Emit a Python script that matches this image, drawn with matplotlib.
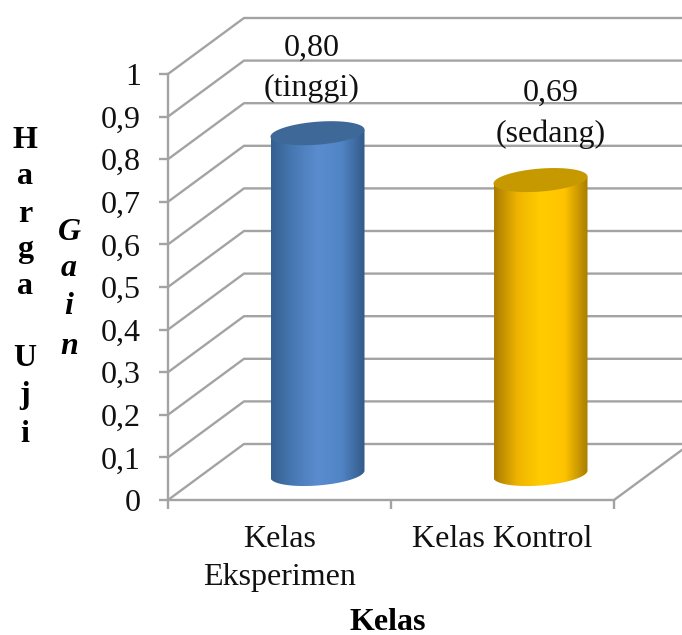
import numpy as np
import matplotlib
matplotlib.use('Agg')
import matplotlib.pyplot as plt
from matplotlib.colors import LinearSegmentedColormap
from matplotlib.patches import Polygon

categories = ['Kelas\nEksperimen', 'Kelas Kontrol']
values = [0.80, 0.69]
value_labels = ['0,80\n(tinggi)', '0,69\n(sedang)']
y_ticks = [0, 0.1, 0.2, 0.3, 0.4, 0.5, 0.6, 0.7, 0.8, 0.9, 1]
y_tick_labels = ['0', '0,1', '0,2', '0,3', '0,4', '0,5', '0,6', '0,7', '0,8', '0,9', '1']
x_title = 'Kelas'

body_colors = [['#33608F', '#4A7AB5', '#5A8CCF', '#5085C5', '#335A88'],
               ['#A87C00', '#F0B400', '#FFCC00', '#FFC400', '#A87C00']]
top_colors = ['#3E6898', '#C69900']

W, H = 682, 635
plt.rcParams['font.family'] = ['Liberation Serif', 'DejaVu Serif']
fig = plt.figure(figsize=(W / 100, H / 100), dpi=100)

# front plane of the fake 3D box, in pixels of the picture
left, right, top, bottom = 168, 614, 74, 500
ax = fig.add_axes([left / W, 1 - bottom / H, (right - left) / W, (bottom - top) / H])
px_x = (right - left) / 2
px_y = bottom - top

grid = '#A3A3A3'
text_color = '#111111'
font_size = 23
depth_x = 76 / px_x
depth_y = 56 / px_y

# walls and floor
for v in y_ticks:
    ax.plot([-0.5, -0.5 + depth_x, 1.5 + depth_x], [v, v + depth_y, v + depth_y],
            color=grid, lw=1.7, clip_on=False, zorder=1)
ax.plot([1.5, 1.5 + depth_x], [0, depth_y], color=grid, lw=1.7, clip_on=False, zorder=1)

# cylinders
cyl_dx = 38 / px_x
cyl_dy = 26 / px_y
half_w = 47 / px_x
half_h = 11.5 / px_y
slant = 3.5 / px_y
t = np.linspace(0, 2 * np.pi, 181)
low = np.linspace(0, np.pi, 91)
for i, v in enumerate(values):
    cx = i + cyl_dx
    base = cyl_dy
    # lower half of the base ellipse, then straight up to the top face
    bx = cx + half_w * np.cos(low)
    by = base - half_h * np.sin(low) + slant * np.cos(low)
    body_x = np.r_[bx, cx - half_w, cx + half_w]
    body_y = np.r_[by, base + v - slant, base + v + slant]
    body = Polygon(np.column_stack([body_x, body_y]), closed=True, fc='none', ec='none', zorder=3)
    ax.add_patch(body)
    cmap = LinearSegmentedColormap.from_list('cyl', body_colors[i])
    im = ax.imshow(np.linspace(0, 1, 256).reshape(1, -1), cmap=cmap, aspect='auto',
                   extent=[cx - half_w, cx + half_w, 0, 1], zorder=3)
    im.set_clip_path(body)
    ax.fill(cx + half_w * np.cos(t), base + v + half_h * np.sin(t) + slant * np.cos(t),
            color=top_colors[i], lw=0, zorder=4, clip_on=False)

ax.set_xlim(-0.5, 1.5)
ax.set_ylim(0, 1)
ax.patch.set_alpha(0)
for s in ['top', 'right']:
    ax.spines[s].set_visible(False)
for s in ['left', 'bottom']:
    ax.spines[s].set_color(grid)
    ax.spines[s].set_linewidth(1.7)
ax.set_yticks(y_ticks)
ax.set_yticklabels(y_tick_labels, fontsize=font_size, color=text_color)
ax.set_xticks([-0.5, 0.5, 1.5])
ax.set_xticklabels([])
ax.tick_params(axis='both', color=grid, width=1.7, length=6.5)
ax.tick_params(axis='y', pad=13)

# category labels and value labels
for i, c in enumerate(categories):
    ax.text(i, -25 / px_y, c, ha='center', va='top', fontsize=font_size, color=text_color,
            linespacing=1.42, clip_on=False)
ax.text(0 + 32 / px_x, values[0] + 91 / px_y, value_labels[0], ha='center', va='center',
        fontsize=font_size, color=text_color, linespacing=1.5, clip_on=False)
ax.text(1 + 48 / px_x, values[1] + 92 / px_y, value_labels[1], ha='center', va='center',
        fontsize=font_size, color=text_color, linespacing=1.5, clip_on=False)

fig.text(388 / W, 1 - 622 / H, x_title, ha='center', va='center', fontsize=23, fontweight='bold')

# side labels written one letter per line
for ch, y in zip('HargaUji', [140, 176, 214, 250, 287, 359, 396, 435]):
    fig.text(25 / W, 1 - y / H, ch, ha='center', va='center', fontsize=23, fontweight='bold')
for ch, y in zip('Gain', [232, 269, 307, 346]):
    fig.text(69 / W, 1 - y / H, ch, ha='center', va='center', fontsize=23,
             fontweight='bold', fontstyle='italic')

fig.savefig('out.png', dpi=100)
